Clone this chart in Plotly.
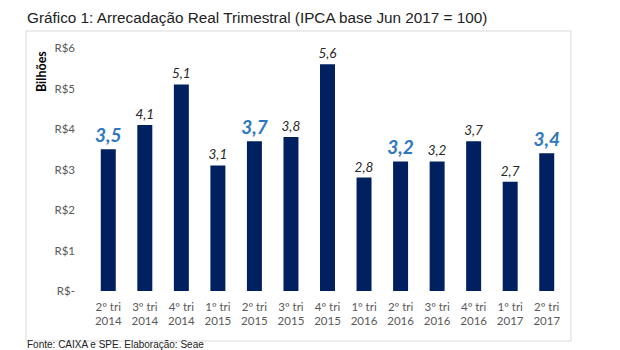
import plotly.graph_objects as go

categories = ["2º tri<br>2014", "3º tri<br>2014", "4º tri<br>2014", "1º tri<br>2015",
              "2º tri<br>2015", "3º tri<br>2015", "4º tri<br>2015", "1º tri<br>2016",
              "2º tri<br>2016", "3º tri<br>2016", "4º tri<br>2016", "1º tri<br>2017",
              "2º tri<br>2017"]
values = [3.5, 4.1, 5.1, 3.1, 3.7, 3.8, 5.6, 2.8, 3.2, 3.2, 3.7, 2.7, 3.4]
highlight = [True, False, False, False, True, False, False, False, True, False, False, False, True]
y_tickvals = [0, 1, 2, 3, 4, 5, 6]
y_ticktext = ["R$-", "R$1", "R$2", "R$3", "R$4", "R$5", "R$6"]

BAR = "#002060"
HL = "#2E78BE"

def fmt(v):
    return f"{v:.1f}".replace(".", ",")

texts = [f"<b><i>{fmt(v)}</i></b>" if h else f"<i>{fmt(v)}</i>" for v, h in zip(values, highlight)]
tcolors = [HL if h else "#262626" for h in highlight]
tsizes = [19 if h else 13.5 for h in highlight]

fig = go.Figure(go.Bar(
    x=categories, y=values, marker_color=BAR, marker_line_width=0,
    text=texts, textposition="outside", cliponaxis=False, constraintext="none",
    textfont=dict(family="Lato", color=tcolors, size=tsizes),
))

W, H = 620, 350
L, R, T, B = 90, 55, 48, 59
pw = W - L - R
ph = H - T - B

def px(x):
    return (x - L) / pw

def py(y):
    return (H - B - y) / ph

fig.update_layout(
    width=W, height=H,
    margin=dict(l=L, r=R, t=T, b=B),
    paper_bgcolor="white", plot_bgcolor="white",
    bargap=0.59, showlegend=False,
    xaxis=dict(showgrid=False, showline=False, zeroline=False, ticks="",
               ticklabelstandoff=7,
               tickfont=dict(family="Lato", size=11.5, color="#595959")),
    yaxis=dict(range=[0, 6], tickvals=y_tickvals, ticktext=y_ticktext,
               showgrid=False, showline=False, zeroline=False, ticks="",
               ticklabelstandoff=14,
               tickfont=dict(family="Lato", size=11.5, color="#595959")),
    shapes=[dict(type="rect", xref="paper", yref="paper",
                 x0=px(26), x1=px(571), y0=py(341), y1=py(31),
                 line=dict(color="#D9D9D9", width=1), layer="below")],
    annotations=[
        dict(text="Gráfico 1: Arrecadação Real Trimestral (IPCA base Jun 2017 = 100)",
             xref="paper", yref="paper", x=px(25), y=py(18), xanchor="left", yanchor="middle",
             showarrow=False, font=dict(family="Liberation Sans", size=15.3, color="#222222")),
        dict(text="Fonte: CAIXA e SPE. Elaboração: Seae",
             xref="paper", yref="paper", x=px(25), y=py(344), xanchor="left", yanchor="middle",
             showarrow=False, font=dict(family="Liberation Sans", size=10, color="#222222")),
        dict(text="<b>Bilhões</b>", textangle=-90,
             xref="paper", yref="paper", x=px(41), y=py(72), xanchor="center", yanchor="middle",
             showarrow=False, font=dict(family="Lato", size=12.5, color="#000000")),
    ],
)

fig.write_html("out.html")
